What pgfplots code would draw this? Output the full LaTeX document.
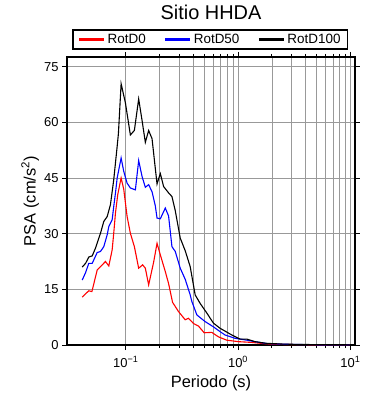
\documentclass[border=0pt]{standalone}
\usepackage{fontspec}
\setmainfont{Liberation Sans}
\usepackage{pgfplots}
\pgfplotsset{compat=1.18}
\begin{document}
\begin{tikzpicture}
\begin{semilogxaxis}[
  at={(0,0)}, anchor=south west,
  scale only axis, width=288bp, height=288bp,
  xmin=0.03, xmax=11, ymin=0, ymax=77.6,
  xtick={0.1,1,10},
  xticklabels={10\textsuperscript{−1},10\textsuperscript{0},10\textsuperscript{1}},
  ytick={0,15,30,45,60,75},
  yticklabels={0,15,30,45,60,75},
  tick align=outside,
  tick pos=both,
  major tick length=5bp, minor tick length=3bp,
  grid=both,
  major grid style={draw=black!40, line width=0.5bp},
  minor grid style={draw=black!40, line width=0.5bp},
  axis line style={line width=1.5bp},
  every tick/.style={black, line width=0.8bp},
  ticklabel style={font=\fontsize{13}{15}\selectfont},
  xticklabel style={yshift=-3bp},
  xlabel={Periodo (s)},
  ylabel={PSA (cm/s\textsuperscript{2})},
  xlabel style={at={(axis description cs:0.5,-0.132)}, anchor=center, font=\fontsize{16.5}{18}\selectfont},
  ylabel style={at={(axis description cs:-0.128,0.5)}, anchor=center, font=\fontsize{16.5}{18}\selectfont},
  title={Sitio HHDA},
  title style={at={(axis description cs:0.5,1.133)}, anchor=center, yshift=0pt, font=\fontsize{20}{22}\selectfont},
  legend columns=3,
  legend style={at={(axis description cs:0.497,1.061)}, anchor=center, draw=black, line width=1.5bp,
    font=\fontsize{13.5}{15}\selectfont, inner xsep=5bp, inner ysep=2bp,
    /tikz/every even column/.append style={column sep=16bp}},
  legend image code/.code={\draw[line width=3bp] (0bp,0bp) -- (25bp,0bp);},
]
\addplot[red, line width=1.1bp] coordinates {
(0.041,12.9) (0.0439,13.8) (0.0469,14.6) (0.0500,14.4) (0.0557,20.2) (0.0596,21.1)
(0.0660,22.5) (0.0707,21.3) (0.0757,25.6) (0.0782,30.1) (0.0810,35.5) (0.0849,40.5)
(0.0897,44.1) (0.0910,45.0) (0.0960,42.0) (0.1029,34.6) (0.1100,30.1) (0.1194,26.5)
(0.1304,20.7) (0.1415,21.6) (0.1495,20.7) (0.1600,16.2) (0.1772,22.3) (0.1900,27.4)
(0.2032,24.3) (0.2250,19.8) (0.2406,16.6) (0.2612,11.5) (0.2953,9.0) (0.3386,6.8)
(0.3622,7.2) (0.4011,5.8) (0.4443,5.1) (0.4993,3.3) (0.5843,3.4) (0.6686,2.2)
(0.7938,1.3) (1.006,0.9) (1.323,0.7) (1.798,0.3) (2.5,0.15) (3.549,0.1) (5,0.06)
(7,0.04) (9.86,0.03)
};
\addlegendentry{RotD0}
\addplot[blue, line width=1.1bp] coordinates {
(0.041,17.5) (0.0439,19.5) (0.0469,22.0) (0.0503,22.0) (0.0557,24.9) (0.0596,25.2)
(0.0638,26.5) (0.0684,29.7) (0.0707,31.9) (0.0757,33.7) (0.0782,37.3) (0.0810,40.9)
(0.0839,45.0) (0.0910,50.4) (0.0960,46.8) (0.1029,43.6) (0.1100,42.3) (0.1219,41.8)
(0.1304,49.7) (0.1398,45.4) (0.1495,42.5) (0.1600,43.2) (0.1715,41.3) (0.1834,37.5)
(0.1900,34.2) (0.2032,34.0) (0.2250,36.9) (0.2406,34.8) (0.2580,26.5) (0.2761,25.2)
(0.3058,20.7) (0.3386,17.7) (0.3751,13.5) (0.3883,11.7) (0.4300,8.1) (0.5096,6.3)
(0.6035,4.9) (0.6922,3.6) (0.7668,2.7) (0.9406,1.8) (1.042,1.6) (1.195,1.3)
(1.416,0.9) (1.798,0.4) (2.5,0.22) (3.549,0.13) (5,0.08) (7,0.06) (9.86,0.04)
};
\addlegendentry{RotD50}
\addplot[black, line width=1.1bp] coordinates {
(0.041,21.0) (0.0439,22.0) (0.0469,23.7) (0.0503,24.0) (0.0538,26.1) (0.0596,30.1)
(0.0638,33.3) (0.0684,34.6) (0.0731,37.8) (0.0782,44.5) (0.0839,53.5) (0.0861,57.0)
(0.0910,70.4) (0.0994,65.2) (0.1100,56.6) (0.1194,57.8) (0.1304,66.3) (0.1398,60.5)
(0.1495,54.6) (0.1600,57.8) (0.1715,55.6) (0.1900,43.4) (0.2032,46.2) (0.2174,42.7)
(0.2406,41.0) (0.2580,40.0) (0.2761,36.2) (0.3058,28.8) (0.3386,25.4) (0.3751,21.1)
(0.4153,13.5) (0.4600,11.2) (0.5277,8.6) (0.6035,5.9) (0.6922,4.5) (0.7408,4.0)
(0.8793,2.7) (1.042,1.6) (1.195,1.6) (1.416,0.9) (1.798,0.45) (2.5,0.25)
(3.549,0.15) (5,0.1) (7,0.07) (9.86,0.05)
};
\addlegendentry{RotD100}
\end{semilogxaxis}
\pgfresetboundingbox
\path[use as bounding box] (-67bp,-55bp) rectangle (323bp,345bp);
\end{tikzpicture}
\end{document}
